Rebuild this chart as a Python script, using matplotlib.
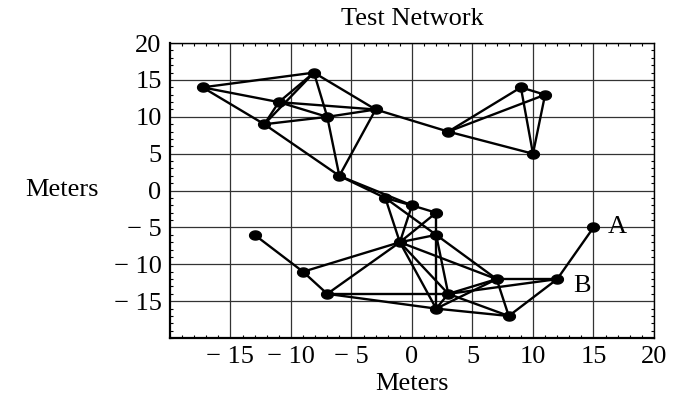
import numpy as np
import matplotlib
matplotlib.use("Agg")
import matplotlib.pyplot as plt

# Node coordinates (meters)
node_x = [-17.3, -8.1, -11.0, -12.2, -7.0, -3.0, 3.0, 9.0, 11.0, 10.0,
          -6.0, -2.2, 0.0, 2.0, 2.0, -1.0, -13.0, -9.0, -7.0, 3.0,
          2.0, 7.0, 12.0, 8.0, 15.0]
node_y = [14.0, 16.0, 12.0, 9.0, 10.0, 11.0, 8.0, 14.0, 13.0, 5.0,
          2.0, -1.0, -2.0, -3.0, -6.0, -7.0, -6.0, -11.0, -14.0, -14.0,
          -16.0, -12.0, -12.0, -17.0, -5.0]

# Links (1-based node ids)
edge_from = [1, 1, 1, 2, 2, 3, 2, 2, 3, 3, 4, 5, 4, 5, 6, 6,
             7, 7, 7, 8, 8, 9,
             11, 11, 12, 13, 12, 13, 14, 12, 14, 15, 15, 15, 15,
             16, 16, 16, 16, 16,
             17, 18, 19, 19, 20, 20, 21, 20, 22, 22, 21, 20, 23, 23]
edge_to = [2, 3, 4, 3, 4, 4, 5, 6, 5, 6, 5, 6, 11, 11, 11, 7,
           8, 9, 10, 9, 10, 10,
           12, 13, 13, 14, 16, 16, 16, 15, 15, 16, 22, 21, 20,
           18, 19, 20, 21, 22,
           18, 19, 20, 21, 21, 22, 22, 23, 23, 24, 24, 24, 24, 25]

x_ticks = [-15, -10, -5, 0, 5, 10, 15, 20]
y_ticks = [-15, -10, -5, 0, 5, 10, 15, 20]

def lab(v):
    return "\u2212 %d" % abs(v) if v < 0 else "%d" % v

plt.rcParams['font.family'] = ['Liberation Serif', 'DejaVu Serif']
FS = 19

fig = plt.figure(figsize=(6.77, 4.03), dpi=100)
ax = fig.add_axes([0.251, 0.161, 0.715, 0.732])

nx = np.array(node_x)
ny = np.array(node_y)
for a, b in zip(edge_from, edge_to):
    ax.plot([nx[a - 1], nx[b - 1]], [ny[a - 1], ny[b - 1]], color='black',
            lw=1.7, solid_capstyle='round', zorder=3)

t = np.linspace(0, 2 * np.pi, 40)
ell = np.c_[1.3 * np.cos(t), np.sin(t)]
ax.plot(nx, ny, linestyle='none', marker=ell, markersize=8.5,
        color='black', zorder=4)

ax.text(16.2, -5, "A", fontsize=FS, ha='left', va='center')
ax.text(13.3, -13.0, "B", fontsize=FS, ha='left', va='center')

ax.set_xlim(-20, 20)
ax.set_ylim(-20, 20)
ax.set_xticks(x_ticks)
ax.set_xticklabels([lab(v) for v in x_ticks], fontsize=FS)
ax.set_yticks(y_ticks)
ax.set_yticklabels([lab(v) for v in y_ticks], fontsize=FS)
ax.set_xticks(np.arange(-20, 21, 1), minor=True)
ax.set_yticks(np.arange(-20, 21, 1), minor=True)
ax.tick_params(which='major', direction='in', length=0, pad=6)
ax.tick_params(which='minor', direction='in', length=2.5, width=0.8,
               top=True, right=True)
ax.grid(True, which='major', color='#333333', lw=0.9)
ax.set_axisbelow(True)
for s in ax.spines.values():
    s.set_linewidth(1.0)
ax.spines['left'].set_linewidth(1.6)
ax.spines['bottom'].set_linewidth(1.6)

ax.set_title("Test Network", fontsize=FS, pad=13)
ax.set_xlabel("Meters", fontsize=FS, labelpad=3)
fig.text(62 / 677, 1 - 190 / 403, "Meters", fontsize=FS,
         ha='center', va='center')

fig.savefig("out.png", dpi=100)
